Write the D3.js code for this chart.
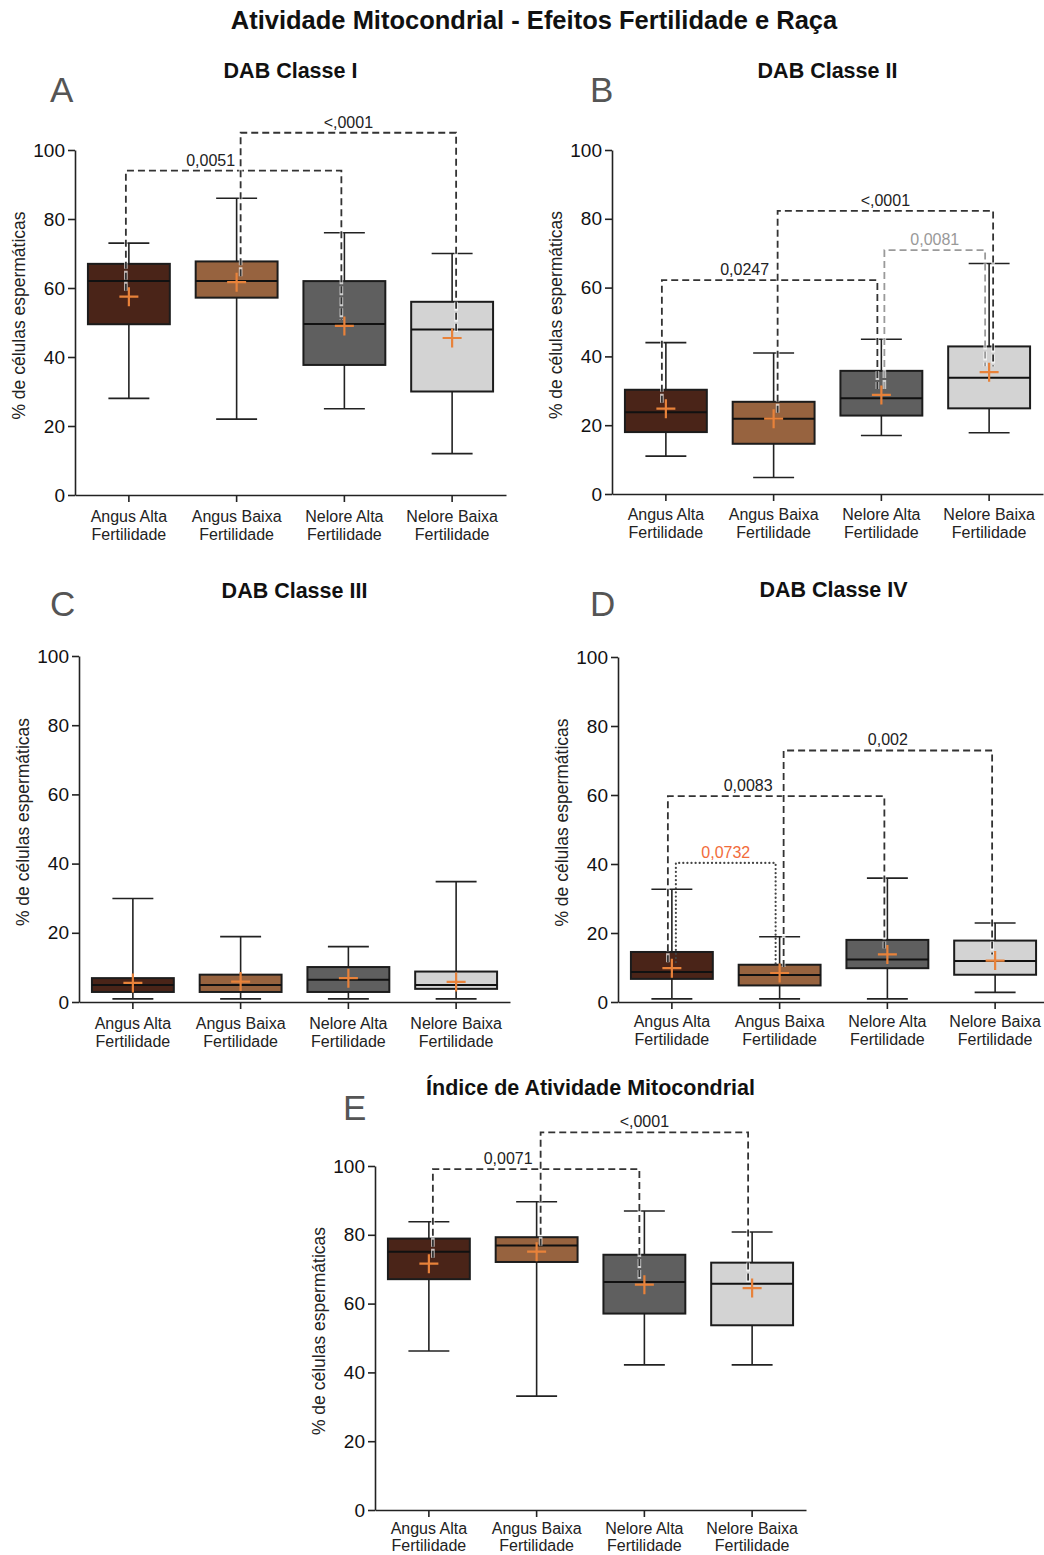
<!DOCTYPE html>
<html>
<head>
<meta charset="utf-8">
<script src="https://cdn.jsdelivr.net/npm/d3@7"></script>
<style>
  body { margin: 0; background: #fff; }
  svg text { font-family: "Liberation Sans", Arial, sans-serif; }
</style>
</head>
<body>
<svg id="chart" width="1044" height="1555"></svg>
<script>
// groups (x categories), two-line labels
const groupLines = [["Angus Alta", "Fertilidade"], ["Angus Baixa", "Fertilidade"], ["Nelore Alta", "Fertilidade"], ["Nelore Baixa", "Fertilidade"]];
const groupColors = ["#4a2418", "#97633f", "#5f5f5f", "#d3d3d3"];
const yTicks = [0, 20, 40, 60, 80, 100];

// box stats per group: [min, q1, median, q3, max, mean]
const dabI   = [[28, 49.5, 62, 67, 73, 57.5], [22, 57.2, 62, 67.7, 86, 61.7], [25, 37.7, 49.6, 62, 76, 49], [12, 30, 48, 56, 70, 45.5]];
const dabII  = [[11, 18, 23.8, 30.3, 44, 24.8], [4.8, 14.6, 21.9, 26.8, 41, 21.9], [17, 22.8, 27.8, 35.8, 45, 28.8], [17.8, 24.9, 33.8, 42.9, 67, 35.4]];
const dabIII = [[0.9, 2.9, 4.9, 6.9, 29.9, 5.5], [0.9, 2.9, 4.9, 7.9, 18.9, 5.9], [0.9, 2.9, 6.4, 10.1, 16, 6.9], [0.9, 3.8, 4.9, 8.8, 34.8, 5.8]];
const dabIV  = [[0.9, 6.7, 8.7, 14.5, 32.7, 9.8], [0.9, 4.8, 7.8, 10.8, 18.9, 8.4], [0.9, 9.8, 12.3, 18, 35.9, 13.8], [2.8, 7.9, 11.9, 17.8, 22.9, 12]];
const indice = [[46.2, 67.1, 75.1, 78.9, 83.8, 71.6], [33.1, 72.1, 76.9, 79.3, 89.6, 75.1], [42.2, 57.1, 66.3, 74.2, 86.9, 65.5], [42.2, 53.7, 65.8, 71.9, 80.8, 64.5]];

// p-value brackets: compared groups, bracket level (%), p label, kind
const dabIPairs   = [{ a: 0, b: 2, level: 94, p: "0,0051", kind: "sig" }, { a: 1, b: 3, level: 105, p: "<,0001", kind: "sig" }];
const dabIIPairs  = [{ a: 0, b: 2, level: 62.2, p: "0,0247", kind: "sig" }, { a: 1, b: 3, level: 82.3, p: "<,0001", kind: "sig" }, { a: 2, b: 3, level: 70.9, p: "0,0081", kind: "minor" }];
const dabIIIPairs = [];
const dabIVPairs  = [{ a: 0, b: 2, level: 59.7, p: "0,0083", kind: "sig" }, { a: 1, b: 3, level: 72.9, p: "0,002", kind: "sig" }, { a: 0, b: 1, level: 40.3, p: "0,0732", kind: "trend" }];
const indicePairs = [{ a: 0, b: 2, level: 99.1, p: "0,0071", kind: "sig" }, { a: 1, b: 3, level: 109.8, p: "<,0001", kind: "sig" }];

// leg offsets (px from box centre) and label shift for each bracket
const dabILegs   = [{ l: -3, r: -3, t: -23 }, { l: 4, r: 4, t: 0 }];
const dabIILegs  = [{ l: -4, r: -4, t: -25 }, { l: 4, r: 4, t: 0 }, { l: 3, r: -4, t: 0 }];
const dabIVLegs  = [{ l: -4, r: -3, t: -28 }, { l: 4, r: -3, t: 0 }, { l: 4, r: -4, t: 0 }];
const indiceLegs = [{ l: 4, r: -5, t: -28 }, { l: 4, r: -4, t: 0 }];

const bracketStyle = {
  sig:   { stroke: "#333", dash: "7,4", text: "#222", cap: "butt" },
  minor: { stroke: "#9a9a9a", dash: "7,4", text: "#999", cap: "butt" },
  trend: { stroke: "#444", dash: "0.1,4", text: "#f26b3a", cap: "round" }
};

const panels = [
  { title: "DAB Classe I", letter: "A", stats: dabI, pairs: dabIPairs, legs: dabILegs, x0: 75, x1: 506, top: 150, bottom: 495, titleY: 78, letterX: 50, letterY: 102, labY: [27, 45] },
  { title: "DAB Classe II", letter: "B", stats: dabII, pairs: dabIIPairs, legs: dabIILegs, x0: 612, x1: 1043, top: 150, bottom: 494, titleY: 78, letterX: 590, letterY: 102, labY: [26, 44] },
  { title: "DAB Classe III", letter: "C", stats: dabIII, pairs: dabIIIPairs, legs: [], x0: 79, x1: 510, top: 656, bottom: 1002, titleY: 598, letterX: 50, letterY: 616, labY: [27, 45] },
  { title: "DAB Classe IV", letter: "D", stats: dabIV, pairs: dabIVPairs, legs: dabIVLegs, x0: 618, x1: 1049, top: 657, bottom: 1002, titleY: 597, letterX: 590, letterY: 616, labY: [25, 43] },
  { title: "Índice de Atividade Mitocondrial", letter: "E", stats: indice, pairs: indicePairs, legs: indiceLegs, x0: 375, x1: 806, top: 1166, bottom: 1510, titleY: 1095, letterX: 343, letterY: 1120, labY: [24, 41] }
];

const svg = d3.select("#chart");

svg.append("text")
  .attr("x", 534).attr("y", 29)
  .attr("text-anchor", "middle")
  .style("font-size", "25.5px").style("font-weight", "bold").style("fill", "#111")
  .text("Atividade Mitocondrial - Efeitos Fertilidade e Raça");

panels.forEach(p => drawPanel(p));

function drawPanel(p) {
  const g = svg.append("g");
  const x = d3.scaleBand().domain(d3.range(groupLines.length)).range([p.x0, p.x1]).paddingInner(0.24).paddingOuter(0.12);
  const y = d3.scaleLinear().domain([0, 100]).range([p.bottom, p.top]);
  const cx = i => x(i) + x.bandwidth() / 2;
  const bw = x.bandwidth();

  // titles
  g.append("text")
    .attr("x", (p.x0 + p.x1) / 2).attr("y", p.titleY)
    .attr("text-anchor", "middle")
    .style("font-size", "21.5px").style("font-weight", "bold").style("fill", "#111")
    .text(p.title);
  g.append("text")
    .attr("x", p.letterX).attr("y", p.letterY)
    .style("font-size", "35px").style("fill", "#555")
    .text(p.letter);

  // axes
  const yAxis = g.append("g")
    .attr("transform", `translate(${p.x0},0)`)
    .call(d3.axisLeft(y).tickValues(yTicks).tickSize(7).tickSizeOuter(0).tickPadding(3));
  const xAxis = g.append("g")
    .attr("transform", `translate(0,${p.bottom})`)
    .call(d3.axisBottom(x).tickSize(7).tickSizeOuter(0).tickFormat(""));
  [yAxis, xAxis].forEach(a => {
    a.select(".domain").attr("stroke", "#222").attr("stroke-width", 1.6);
    a.selectAll(".tick line").attr("stroke", "#222").attr("stroke-width", 1.6);
  });
  yAxis.selectAll(".tick text")
    .style("font-size", "19px").style("fill", "#111")
    .style("font-family", "'Liberation Sans', Arial, sans-serif");

  xAxis.selectAll(".tick").each(function (d) {
    const t = d3.select(this).select("text")
      .attr("y", 0).attr("dy", null)
      .style("font-size", "16px").style("fill", "#222")
      .style("font-family", "'Liberation Sans', Arial, sans-serif");
    groupLines[d].forEach((line, k) => {
      t.append("tspan").attr("x", 0).attr("y", p.labY[k]).text(line);
    });
  });

  g.append("text")
    .attr("transform", `translate(${p.x0 - 50},${(p.top + p.bottom) / 2 - 7}) rotate(-90)`)
    .attr("text-anchor", "middle")
    .style("font-size", "17.5px").style("fill", "#222")
    .text("% de células espermáticas");

  // boxes
  const box = g.selectAll(".box").data(p.stats).join("g").attr("class", "box");
  box.append("line")
    .attr("x1", (d, i) => cx(i)).attr("x2", (d, i) => cx(i))
    .attr("y1", d => y(d[0])).attr("y2", d => y(d[4]))
    .attr("stroke", "#222").attr("stroke-width", 1.6);
  box.append("line")
    .attr("x1", (d, i) => cx(i) - bw / 4).attr("x2", (d, i) => cx(i) + bw / 4)
    .attr("y1", d => y(d[0])).attr("y2", d => y(d[0]))
    .attr("stroke", "#222").attr("stroke-width", 1.6);
  box.append("line")
    .attr("x1", (d, i) => cx(i) - bw / 4).attr("x2", (d, i) => cx(i) + bw / 4)
    .attr("y1", d => y(d[4])).attr("y2", d => y(d[4]))
    .attr("stroke", "#222").attr("stroke-width", 1.6);
  box.append("rect")
    .attr("x", (d, i) => x(i)).attr("width", bw)
    .attr("y", d => y(d[3])).attr("height", d => y(d[1]) - y(d[3]))
    .attr("fill", (d, i) => groupColors[i])
    .attr("stroke", "#1c1c1c").attr("stroke-width", 2);
  box.append("line")
    .attr("x1", (d, i) => x(i)).attr("x2", (d, i) => x(i) + bw)
    .attr("y1", d => y(d[2])).attr("y2", d => y(d[2]))
    .attr("stroke", "#111").attr("stroke-width", 2);

  // significance brackets
  p.pairs.forEach((pr, k) => {
    const st = bracketStyle[pr.kind];
    const off = p.legs[k];
    const xa = cx(pr.a) + off.l, xb = cx(pr.b) + off.r, yl = y(pr.level);
    const ya = y(p.stats[pr.a][5]) - 6, yb = y(p.stats[pr.b][5]) - 6;
    const path = d3.path();
    path.moveTo(xa, ya); path.lineTo(xa, yl); path.lineTo(xb, yl); path.lineTo(xb, yb);
    if (pr.kind !== "trend") {
      g.append("path").attr("d", path.toString()).attr("fill", "none")
        .attr("stroke", "#fff").attr("stroke-width", 3.6).attr("stroke-dasharray", "9,2").attr("opacity", 0.7);
    }
    g.append("path").attr("d", path.toString()).attr("fill", "none")
      .attr("stroke", st.stroke).attr("stroke-width", pr.kind === "trend" ? 2.2 : 1.8)
      .attr("stroke-dasharray", st.dash).attr("stroke-linecap", st.cap);
    g.append("text")
      .attr("x", (xa + xb) / 2 + off.t).attr("y", yl - 5)
      .attr("text-anchor", "middle")
      .style("font-size", "16px").style("fill", st.text)
      .text(pr.p);
  });

  // means
  const mean = g.selectAll(".mean").data(p.stats).join("g").attr("class", "mean")
    .attr("transform", (d, i) => `translate(${cx(i)},${y(d[5])})`);
  mean.append("path").attr("d", "M-9.5,0H9.5M0,-9.5V9.5")
    .attr("stroke", "#e8823a").attr("stroke-width", 2.2);
}
</script>
</body>
</html>
